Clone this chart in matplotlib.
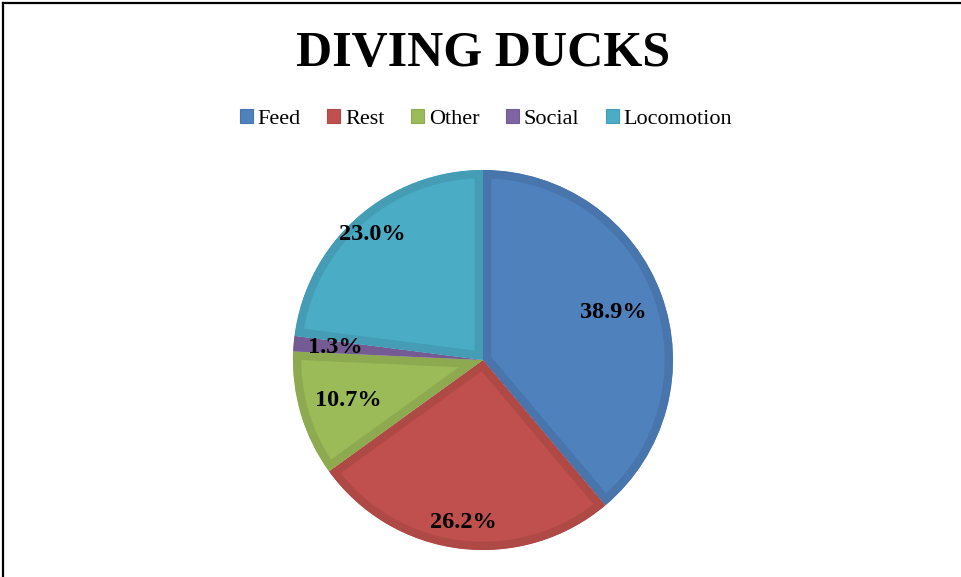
import numpy as np
import matplotlib.pyplot as plt
from matplotlib.patches import Patch
from matplotlib.lines import Line2D
from matplotlib.colors import to_rgb

plt.rcParams['font.family'] = ['Liberation Serif', 'DejaVu Serif']

# Share of time per behaviour (%)
behaviours = ['Feed', 'Rest', 'Other', 'Social', 'Locomotion']
shares = [38.9, 26.2, 10.7, 1.3, 23.0]
colors = ['#4F81BD', '#C0504D', '#9BBB59', '#8064A2', '#4BACC6']

# radial position of each percentage label (fraction of radius)
label_r = [0.73, 0.86, 0.74, 0.78, 0.88]


def darker(c, f=0.91):
    return tuple(v * f for v in to_rgb(c))


W, H = 962, 577
fig = plt.figure(figsize=(W / 100, H / 100), dpi=100)

cx, cy, R = 483, 360, 191
ax = fig.add_axes([(cx - R) / W, (H - cy - R) / H, 2 * R / W, 2 * R / H])

wedges, _ = ax.pie(shares, colors=colors, startangle=90, counterclock=False,
                   radius=1.0, normalize=True)
ax.set_xlim(-1.005, 1.005)
ax.set_ylim(-1.005, 1.005)
ax.set_aspect('equal')
ax.axis('off')

# darker inner rim on every slice (stroke clipped to the slice itself)
for w, c in zip(wedges, colors):
    w.set_edgecolor(darker(c))
    w.set_linewidth(12)
    w.set_joinstyle('round')
    w.set_clip_on(True)
    w.set_clip_path(w)

for w, val, r in zip(wedges, shares, label_r):
    ang = np.deg2rad((w.theta1 + w.theta2) / 2)
    ax.text(r * np.cos(ang), r * np.sin(ang), f'{val:.1f}%',
            ha='center', va='center', fontsize=17.5, fontweight='bold')

fig.text(cx / W, 1 - 54 / H, 'DIVING DUCKS', ha='center', va='center',
         fontsize=36, fontweight='bold')

handles = [Patch(facecolor=c, edgecolor=darker(c), linewidth=0.8) for c in colors]
fig.legend(handles, behaviours, loc='center', bbox_to_anchor=(486 / W, 1 - 119 / H),
           ncol=5, frameon=False, fontsize=16, handlelength=0.6, handleheight=0.6,
           handletextpad=0.2, columnspacing=1.2)

# frame lines along the top and left edges
fig.add_artist(Line2D([3 / W, 1], [1 - 2.5 / H, 1 - 2.5 / H], color='black', lw=1.6))
fig.add_artist(Line2D([3 / W, 3 / W], [0, 1 - 2.5 / H], color='black', lw=1.6))

fig.savefig('out.png', dpi=100)
